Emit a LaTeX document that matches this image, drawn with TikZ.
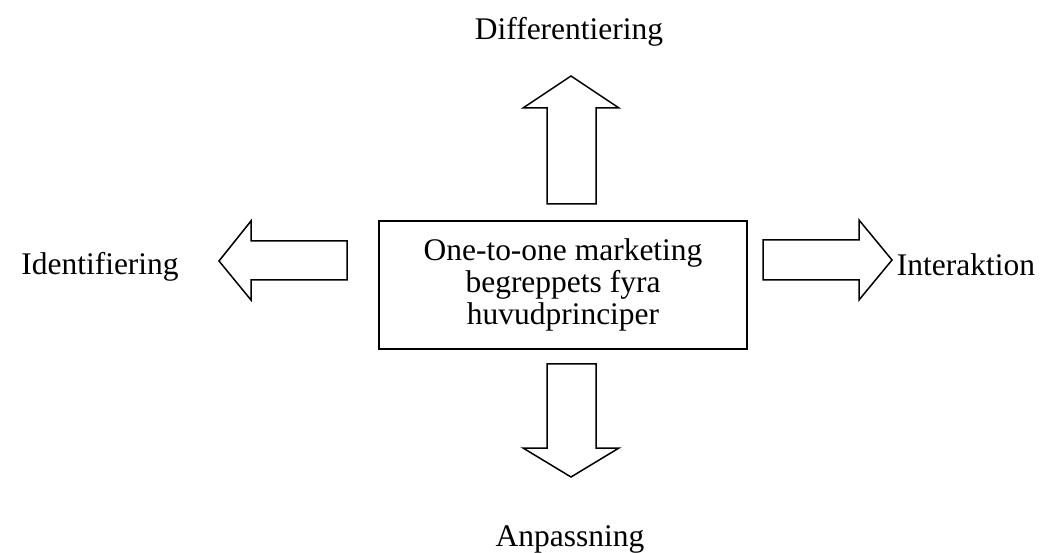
\documentclass[tikz,border=0pt]{standalone}
\usepackage{fontspec}
\setmainfont{Liberation Serif}
\begin{document}
\begin{tikzpicture}[x=1bp,y=-1bp,
  lbl/.style={font=\fontsize{31.6}{31}\selectfont, inner sep=0pt, anchor=base},
  blockarrow/.style={draw=black, line width=1.5bp, fill=white, line join=miter}]
\useasboundingbox (0,0) rectangle (1045,553);
% central box
\node[draw=black, line width=1.5bp, minimum width=368bp, minimum height=128bp,
  inner sep=0pt, align=center, font=\fontsize{31.6}{32}\selectfont]
  (center) at (563,285) {One-to-one marketing\\begreppets fyra\\huvudprinciper};
% up arrow
\draw[blockarrow] (547,204) -- (547,108) -- (523,108) -- (571,76) -- (619,108) -- (596,108) -- (596,204) -- cycle;
% down arrow
\draw[blockarrow] (547,364) -- (547,448) -- (523,448) -- (571,477) -- (619,448) -- (596,448) -- (596,364) -- cycle;
% left arrow
\draw[blockarrow] (347,241) -- (251,241) -- (251,221) -- (219,261) -- (251,300) -- (251,280) -- (347,280) -- cycle;
% right arrow
\draw[blockarrow] (763,240) -- (859,240) -- (859,220) -- (892,260) -- (859,300) -- (859,280) -- (763,280) -- cycle;
% labels
\node[lbl] (diff) at (569,40) {Differentiering};
\node[lbl] (ident) at (100,275) {Identifiering};
\node[lbl] (inter) at (966,275.5) {Interaktion};
\node[lbl] (anp) at (570,546.5) {Anpassning};
\end{tikzpicture}
\end{document}
